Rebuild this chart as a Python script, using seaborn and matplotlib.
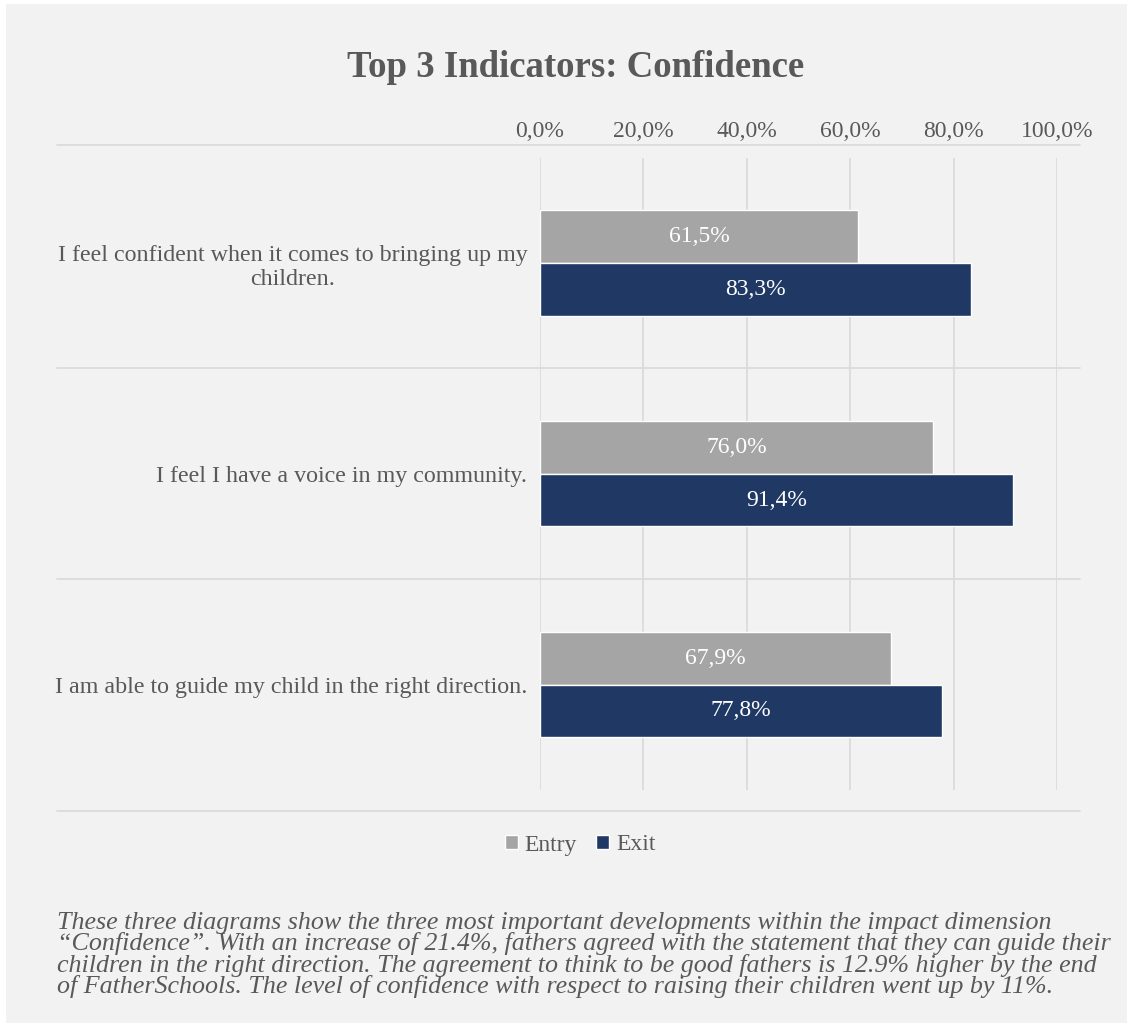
import matplotlib
matplotlib.use("Agg")
import matplotlib.pyplot as plt
import seaborn as sns
import pandas as pd
from matplotlib.patches import Rectangle

# Survey statements (y categories) and agreement shares (%)
statements = [
    "I feel confident when it comes to bringing up my\nchildren.",
    "I feel I have a voice in my community.",
    "I am able to guide my child in the right direction.",
]
entry_values = [61.5, 76.0, 67.9]
exit_values = [83.3, 91.4, 77.8]
series_names = ["Entry", "Exit"]
x_ticks = [0, 20, 40, 60, 80, 100]

title_text = "Top 3 Indicators: Confidence"
caption_text = (
    "These three diagrams show the three most important developments within the impact dimension\n"
    "\u201cConfidence\u201d. With an increase of 21.4%, fathers agreed with the statement that they can guide their\n"
    "children in the right direction. The agreement to think to be good fathers is 12.9% higher by the end\n"
    "of FatherSchools. The level of confidence with respect to raising their children went up by 11%."
)

BG = "#f2f2f2"
TEXT = "#595959"
GRID = "#d9d9d9"
palette = {"Entry": "#a5a5a5", "Exit": "#1f3864"}

df = pd.DataFrame({
    "statement": statements * 2,
    "series": ["Entry"] * 3 + ["Exit"] * 3,
    "value": entry_values + exit_values,
})

sns.set_theme(style="white")
plt.rcParams["font.family"] = ["Liberation Serif", "DejaVu Serif"]

W, H = 1127, 1023
fig = plt.figure(figsize=(W / 100, H / 100), dpi=100, facecolor=BG)
# thin white margin along the top and left edges
fig.patches.append(Rectangle((0, 1 - 4 / H), 1, 4 / H, transform=fig.transFigure,
                             facecolor="white", edgecolor="none"))
fig.patches.append(Rectangle((0, 0), 6 / W, 1, transform=fig.transFigure,
                             facecolor="white", edgecolor="none"))

ax = fig.add_axes([540 / W, 1 - 811 / H, 517 / W, (811 - 145) / H])
ax.set_facecolor("none")

sns.barplot(data=df, y="statement", x="value", hue="series", hue_order=series_names,
            order=statements, palette=palette, orient="h", width=0.5, ax=ax,
            saturation=1, legend=False, zorder=3)

ax.set_xlim(0, 100)
ax.set_ylim(2.6, -0.56)
ax.set_xlabel("")
ax.set_ylabel("")
for s in ax.spines.values():
    s.set_visible(False)

# vertical gridlines
ax.vlines(x_ticks, -0.5, 2.5, colors=GRID, linewidth=1.2, zorder=1)
# horizontal category separators reaching into the label area
left_ext = (57 - 540) / 517
right_ext = (1080 - 540) / 517
for yv in [-0.56, 0.5, 1.5, 2.6]:
    ax.axhline(yv, xmin=left_ext, xmax=right_ext, color=GRID, linewidth=1.2,
               clip_on=False, zorder=1)

ax.xaxis.tick_top()
ax.set_xticks(x_ticks)
ax.set_xticklabels([f"{v:.1f}%".replace(".", ",") for v in x_ticks],
                   fontsize=17, color=TEXT)
ax.tick_params(axis="x", length=0, pad=2)
ax.tick_params(axis="y", length=0, pad=9)
for lbl in ax.get_yticklabels():
    lbl.set_fontsize(17.3)
    lbl.set_color(TEXT)
    lbl.set_multialignment("center")

for cont in ax.containers:
    ax.bar_label(cont, labels=[f"{v:.1f}%".replace(".", ",") for v in cont.datavalues],
                 label_type="center", color="white", fontsize=17)

fig.text(576 / W, 1 - 68 / H, title_text, ha="center", va="center",
         fontsize=26.5, fontweight="bold", color=TEXT)

handles = [Rectangle((0, 0), 1, 1, facecolor=palette[n]) for n in series_names]
fig.legend(handles, series_names, loc="center", bbox_to_anchor=(580 / W, 1 - 845 / H),
           ncol=2, frameon=False, fontsize=17, labelcolor=TEXT,
           handlelength=0.55, handleheight=0.55, handletextpad=0.3, columnspacing=0.8)

fig.text(57 / W, 1 - 955 / H, caption_text, ha="left", va="center", fontsize=18.7,
         style="italic", color=TEXT, linespacing=0.9)

fig.savefig("out.png", dpi=100, facecolor=fig.get_facecolor())
